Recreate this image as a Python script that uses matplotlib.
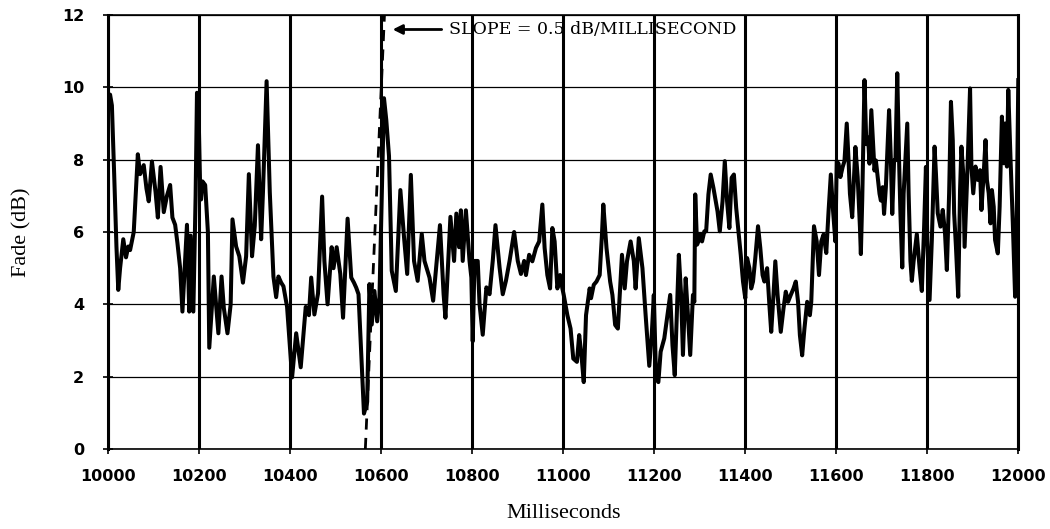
import matplotlib.pyplot as plt

# time axis (ms) and fade level (dB)
ms = [10000, 10004, 10008, 10013, 10018, 10022, 10026, 10033, 10039, 10044,
      10048, 10056, 10065, 10070, 10078, 10084, 10089, 10096, 10104, 10109,
      10115, 10122, 10129, 10136, 10141, 10147, 10152, 10158, 10163, 10168,
      10173, 10178, 10181, 10187, 10192, 10195, 10198, 10202, 10204, 10207,
      10213, 10219,
      10222, 10232, 10242, 10249, 10254, 10262, 10269, 10273, 10281, 10288,
      10296, 10303, 10309, 10316, 10322, 10329, 10336, 10340, 10348, 10355,
      10363, 10369, 10374, 10380, 10385, 10393, 10404, 10413, 10423, 10434,
      10441,
      10446, 10453, 10461, 10470, 10475, 10482, 10491, 10495, 10502, 10510,
      10516, 10526, 10534, 10540, 10545, 10550, 10555, 10562, 10569, 10574,
      10579, 10585, 10591, 10596, 10602, 10606, 10611, 10617, 10623, 10632,
      10642, 10650, 10657, 10665, 10672, 10680,
      10689, 10695, 10706, 10714, 10722, 10729, 10737, 10741, 10752, 10760,
      10765, 10771, 10775, 10779, 10786, 10794, 10798, 10801, 10805, 10812,
      10816, 10823, 10831, 10838, 10845, 10851, 10860, 10867, 10874, 10882,
      10892, 10900, 10907,
      10914, 10918, 10925, 10932, 10940, 10947, 10954, 10959, 10965, 10971,
      10976, 10981, 10987, 10993, 10998, 11001, 11009, 11016, 11022, 11030,
      11035, 11040, 11045, 11050, 11058, 11061, 11067, 11073, 11080, 11085,
      11088, 11095, 11103, 11108, 11114, 11120, 11125, 11129, 11135, 11140,
      11148,
      11155, 11159, 11166, 11174, 11181, 11189, 11194, 11199, 11204, 11209,
      11214, 11222, 11229, 11235, 11240, 11245, 11254, 11259, 11263, 11269,
      11274, 11279, 11285, 11288, 11290, 11294, 11297, 11301, 11305, 11310,
      11314, 11319, 11324, 11330, 11339, 11344, 11350, 11355, 11360, 11365,
      11370, 11375, 11380,
      11390, 11395, 11400, 11404, 11409, 11413, 11417, 11422, 11428, 11433,
      11438, 11442, 11448, 11453, 11457, 11462, 11466, 11471, 11478, 11484,
      11489, 11494, 11500, 11506, 11511, 11516, 11520, 11525, 11530, 11536,
      11542, 11545, 11551, 11557, 11562, 11567, 11572, 11578, 11583, 11588,
      11593, 11598, 11601,
      11605, 11609, 11614, 11618, 11623, 11627, 11630, 11635, 11639, 11642,
      11647, 11652, 11654, 11657, 11662, 11666, 11670, 11673, 11677, 11680,
      11684, 11687, 11691, 11695, 11698, 11702, 11705, 11709, 11713, 11716,
      11720, 11723, 11727, 11730, 11734, 11738, 11741, 11745, 11748, 11756,
      11759, 11763, 11766, 11770, 11777, 11783, 11788, 11793, 11797,
      11800, 11805, 11810, 11816, 11819, 11823, 11829, 11834, 11839, 11843,
      11848, 11852, 11856, 11859, 11863, 11868, 11872, 11875, 11879, 11882,
      11888, 11894, 11897, 11901, 11906, 11911, 11916, 11919, 11924, 11928,
      11931, 11935, 11939, 11942, 11946, 11949, 11955, 11959, 11964, 11968,
      11971, 11975, 11978, 11983, 11988, 11993, 11996, 12000]

fade_db = [9.5, 9.8, 9.5, 7.6, 5.6, 4.4, 5.0, 5.8, 5.3, 5.6,
           5.5, 6.0, 8.15, 7.6, 7.85, 7.2, 6.85, 7.95, 7.1, 6.4,
           7.8, 6.55, 7.0, 7.3, 6.4, 6.2, 5.7, 5.0, 3.8, 5.0,
           6.2, 3.8, 5.9, 3.8, 7.0, 9.85, 9.6, 7.2, 6.9, 7.4,
           7.3, 6.0,
           2.8, 4.77, 3.2, 4.77, 3.9, 3.2, 4.0, 6.35, 5.6, 5.33,
           4.6, 5.33, 7.6, 5.33, 6.17, 8.4, 5.8, 7.1, 10.17, 7.1,
           4.77, 4.2, 4.77, 4.6, 4.5, 3.93, 1.98, 3.2, 2.26, 3.93,
           3.7,
           4.74, 3.72, 4.3, 6.98, 5.2, 4.0, 5.58, 5.0, 5.58, 4.84,
           3.63, 6.37, 4.74, 4.6, 4.46, 4.28, 2.88, 0.98, 1.3, 4.56,
           3.44, 4.37, 3.53, 4.2, 7.53, 9.7, 9.1, 8.1, 4.93, 4.37,
           7.16, 5.86, 4.84, 7.58, 5.2, 4.65,
           5.95, 5.2, 4.74, 4.1, 5.2, 6.19, 4.28, 3.63, 6.42, 5.2,
           6.51, 5.58, 6.6, 5.2, 6.6, 5.2, 4.74, 2.98, 5.2, 5.2,
           4.0, 3.16, 4.47, 4.28, 5.2, 6.19, 5.02, 4.28, 4.65, 5.2,
           6.0, 5.2, 4.84,
           5.2, 4.81, 5.37, 5.19, 5.56, 5.74, 6.76, 5.56, 4.81, 4.44,
           6.11, 5.74, 4.44, 4.81, 4.44, 4.26, 3.7, 3.33, 2.5, 2.41,
           3.15, 2.59, 1.85, 3.7, 4.44, 4.17, 4.54, 4.63, 4.81, 5.93,
           6.76, 5.56, 4.63, 4.26, 3.43, 3.33, 4.44, 5.37, 4.44, 5.19,
           5.74,
           5.2, 4.44, 5.83, 5.0, 3.7, 2.3, 3.06, 4.26, 1.94, 1.85,
           2.69, 3.06, 3.7, 4.26, 2.87, 2.04, 5.37, 4.26, 2.6, 4.72,
           3.7, 2.6, 4.26, 4.07, 7.04, 5.65, 5.74, 5.93, 5.74, 6.02,
           6.02, 7.04, 7.59, 7.22, 6.57, 6.02, 6.85, 7.96, 6.85, 6.11,
           7.5, 7.59, 6.67,
           5.37, 4.63, 4.17, 5.28, 5.0, 4.44, 4.63, 5.28, 6.16, 5.56,
           4.81, 4.63, 5.0, 3.98, 3.24, 4.26, 5.19, 4.26, 3.24, 3.89,
           4.35, 4.07, 4.26, 4.44, 4.63, 4.07, 3.15, 2.59, 3.33, 4.07,
           3.7, 4.07, 6.16, 5.74, 4.81, 5.74, 5.93, 5.42, 6.57, 7.59,
           6.57, 5.74, 7.96,
           7.89, 7.52, 7.8, 7.96, 9.0, 7.98, 7.06, 6.41, 7.52, 8.35,
           7.52, 6.13, 5.39, 6.87, 10.2, 8.43, 8.61, 7.89, 9.37, 8.63,
           7.7, 7.98, 7.52, 7.06, 6.87, 7.24, 6.5, 7.24, 8.43, 9.37,
           7.98, 6.5, 7.98, 7.98, 10.39, 7.98, 6.5, 5.02, 7.06, 9.0,
           7.06, 5.2, 4.65, 5.2, 5.94, 5.02, 4.37, 6.13, 7.8,
           5.78, 4.12, 5.78, 8.36, 7.62, 6.52, 6.15, 6.61, 5.96, 4.95,
           7.07, 9.6, 8.54, 6.52, 5.59, 4.21, 7.16, 8.36, 7.62, 5.59,
           7.62, 9.97, 7.81, 7.07, 7.81, 7.44, 7.71, 6.61, 7.62, 8.54,
           7.44, 7.07, 6.24, 7.16, 6.7, 5.78, 5.41, 6.7, 9.19, 7.9,
           9.0, 7.81, 9.93, 7.99, 6.24, 4.21, 5.78, 10.2]

# dashed slope reference line
slope_ms = [10565, 10607]
slope_db = [0, 12]

x_ticks = list(range(10000, 12001, 200))
y_ticks = [0, 2, 4, 6, 8, 10, 12]

fig = plt.figure(figsize=(10.5, 5.29), dpi=100)
ax = fig.add_axes([0.1031, 0.1512, 0.8667, 0.8204])

for x in x_ticks:
    ax.axvline(x, color='black', lw=2.2, zorder=1)
for y in y_ticks:
    ax.axhline(y, color='black', lw=0.9, zorder=1)

ax.plot(ms, fade_db, color='black', lw=2.9, solid_joinstyle='round', zorder=3)
ax.plot(slope_ms, slope_db, color='black', lw=2.0, ls='--', dashes=(4, 3), zorder=3)

ax.set_xlim(10000, 12000)
ax.set_ylim(0, 12)
ax.set_xticks(x_ticks)
ax.set_yticks(y_ticks)

for side in ['left', 'right']:
    ax.spines[side].set_linewidth(2.2)
for side in ['top', 'bottom']:
    ax.spines[side].set_linewidth(1.2)

ax.tick_params(direction='inout', length=7, width=1.2)
ax.tick_params(axis='x', pad=11)
ax.tick_params(axis='y', pad=14)
for lab in ax.get_xticklabels() + ax.get_yticklabels():
    lab.set_fontfamily('DejaVu Sans')
    lab.set_fontweight('bold')
    lab.set_fontsize(11.5)

ax.set_xlabel('Milliseconds', family='Liberation Serif', fontsize=16, labelpad=14)
ax.set_ylabel('Fade (dB)', family='Liberation Serif', fontsize=16, labelpad=22)

ax.annotate('SLOPE = 0.5 dB/MILLISECOND', xy=(10625, 11.6), xytext=(10748, 11.6),
            va='center', ha='left', family='DejaVu Serif', fontsize=12.5,
            arrowprops=dict(arrowstyle='-|>', color='black', lw=2,
                            mutation_scale=14, shrinkA=3, shrinkB=0))

fig.savefig('out.png', dpi=100)
